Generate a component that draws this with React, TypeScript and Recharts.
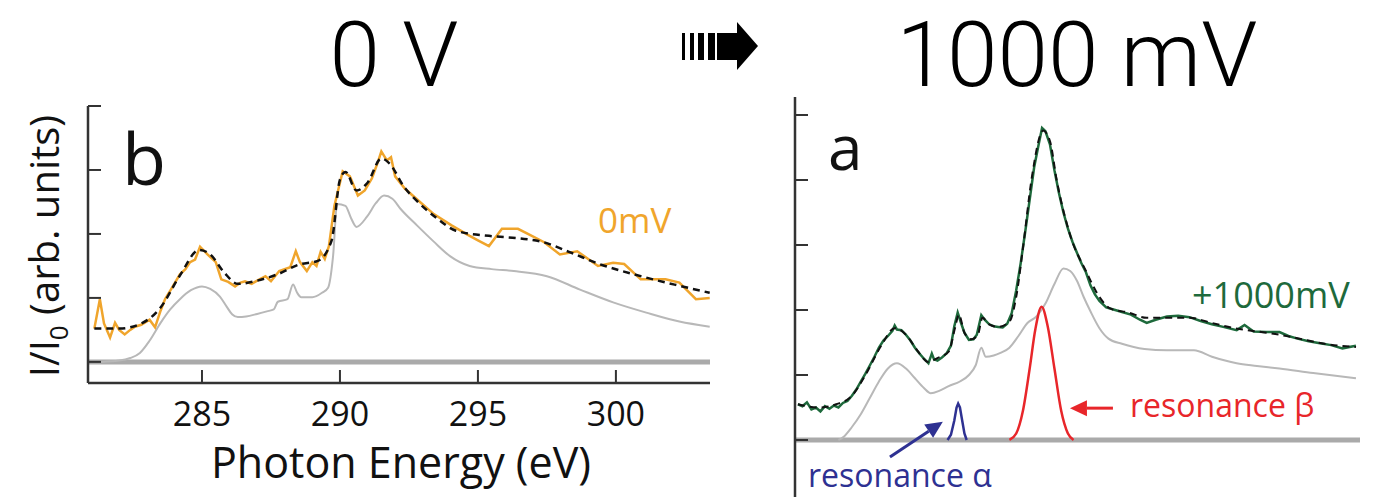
import React from 'react';
import { LineChart, Line, XAxis, YAxis, ReferenceLine } from 'recharts';

type Pt = [number, number];

// [photon energy (eV), I/I0 (arb. units)]
const scan0mV: Pt[] = [
  [281.1, 0.52], [281.3, 0.98], [281.45, 0.6], [281.67, 0.38], [281.85, 0.61], [282.0, 0.5],
  [282.2, 0.43], [282.4, 0.5], [282.57, 0.55], [282.8, 0.58], [283.1, 0.66], [283.3, 0.54],
  [283.5, 0.8], [283.66, 0.98], [283.9, 1.15], [284.2, 1.37], [284.4, 1.45], [284.57, 1.56],
  [284.75, 1.6], [284.93, 1.8], [285.2, 1.68], [285.5, 1.56], [285.7, 1.29], [285.95, 1.25],
  [286.2, 1.18], [286.4, 1.24], [286.56, 1.26], [286.8, 1.22], [287.0, 1.27], [287.3, 1.34],
  [287.5, 1.26], [287.8, 1.42], [288.2, 1.48], [288.4, 1.73], [288.55, 1.56], [288.8, 1.42],
  [289.0, 1.56], [289.15, 1.5], [289.3, 1.72], [289.45, 1.61], [289.6, 1.81], [289.8, 2.44],
  [290.1, 2.98], [290.36, 2.9], [290.65, 2.6], [290.9, 2.68], [291.16, 2.87], [291.38, 3.13],
  [291.5, 3.29], [291.7, 3.15], [291.85, 3.2], [292.0, 2.9], [292.35, 2.71], [292.9, 2.5],
  [293.4, 2.31], [294.06, 2.13], [294.7, 1.97], [295.0, 1.9], [295.4, 1.81], [295.87, 2.08],
  [296.45, 2.08], [296.9, 1.98], [297.4, 1.87], [297.97, 1.68], [298.6, 1.73], [299.35, 1.5],
  [299.9, 1.55], [300.3, 1.53], [300.9, 1.29], [301.8, 1.29], [302.3, 1.24], [302.9, 0.98],
  [303.4, 1.0],
];

const fit0mV: Pt[] = [
  [281.1, 0.52], [282.0, 0.52], [282.8, 0.6], [283.5, 0.85], [284.2, 1.35], [284.9, 1.75],
  [285.3, 1.68], [285.8, 1.4], [286.3, 1.22], [287.0, 1.27], [287.8, 1.38], [288.5, 1.52],
  [289.2, 1.58], [289.7, 1.9], [290.0, 2.85], [290.2, 2.97], [290.6, 2.68], [291.0, 2.8],
  [291.5, 3.18], [291.8, 3.1], [292.3, 2.75], [292.9, 2.47], [293.5, 2.25], [294.2, 2.05],
  [295.4, 1.97], [296.5, 1.93], [297.3, 1.88], [298.3, 1.72], [299.4, 1.53], [300.9, 1.34],
  [302.2, 1.2], [303.4, 1.08],
];

const ref0mV: Pt[] = [
  [281.3, 0.0], [282.0, 0.02], [282.4, 0.06], [282.75, 0.14], [283.1, 0.33], [283.5, 0.61],
  [283.85, 0.82], [284.2, 0.98], [284.6, 1.12], [285.0, 1.18], [285.3, 1.14], [285.65, 1.02],
  [285.9, 0.86], [286.1, 0.74], [286.3, 0.7], [286.6, 0.71], [287.0, 0.75], [287.35, 0.79],
  [287.6, 0.82], [287.75, 0.94], [288.1, 0.98], [288.3, 1.21], [288.45, 1.08], [288.6, 1.01],
  [289.0, 1.01], [289.35, 1.08], [289.57, 1.16], [289.75, 1.65], [289.9, 2.47], [290.2, 2.44],
  [290.4, 2.25], [290.6, 2.11], [290.98, 2.27], [291.3, 2.48], [291.6, 2.6], [291.9, 2.55],
  [292.2, 2.39], [292.8, 2.13], [293.4, 1.88], [294.0, 1.65], [294.7, 1.5], [295.5, 1.45],
  [296.3, 1.42], [297.5, 1.34], [298.7, 1.13], [299.9, 0.93], [301.1, 0.77], [302.3, 0.63],
  [303.4, 0.55],
];

const scan1000mV: Pt[] = [
  [280.6, 0.55], [280.8, 0.52], [281.0, 0.58], [281.2, 0.47], [281.4, 0.5], [281.6, 0.44],
  [281.8, 0.52], [282.0, 0.48], [282.2, 0.53], [282.4, 0.5], [282.6, 0.57], [282.8, 0.6],
  [283.0, 0.68], [283.2, 0.78], [283.4, 0.9], [283.6, 1.02], [283.8, 1.15], [284.0, 1.28],
  [284.2, 1.42], [284.4, 1.53], [284.6, 1.6], [284.8, 1.68], [284.9, 1.76], [285.0, 1.7],
  [285.2, 1.69], [285.4, 1.62], [285.6, 1.53], [285.8, 1.42], [286.0, 1.33], [286.2, 1.25],
  [286.4, 1.18], [286.55, 1.33], [286.65, 1.24], [286.8, 1.22], [287.0, 1.27], [287.2, 1.33],
  [287.4, 1.45], [287.55, 1.75], [287.7, 1.96], [287.85, 1.8], [288.0, 1.65], [288.2, 1.54],
  [288.4, 1.55], [288.55, 1.62], [288.75, 1.92], [288.9, 1.85], [289.1, 1.78], [289.3, 1.75],
  [289.5, 1.74], [289.7, 1.73], [289.9, 1.79], [290.1, 1.95], [290.3, 2.3], [290.5, 2.72],
  [290.7, 3.2], [290.9, 3.7], [291.1, 4.2], [291.3, 4.55], [291.45, 4.8], [291.6, 4.75],
  [291.8, 4.55], [292.0, 4.15], [292.2, 3.8], [292.4, 3.5], [292.6, 3.25], [292.8, 3.05],
  [293.0, 2.88], [293.2, 2.72], [293.4, 2.58], [293.6, 2.38], [293.8, 2.24], [294.0, 2.14],
  [294.3, 2.04], [294.7, 2.0], [295.0, 1.97], [295.4, 1.93], [295.8, 1.85], [296.1, 1.8],
  [296.5, 1.85], [297.0, 1.9], [297.5, 1.91], [298.0, 1.89], [298.5, 1.83], [299.0, 1.78],
  [299.5, 1.74], [300.1, 1.69], [300.45, 1.77], [300.85, 1.67], [301.4, 1.66], [302.0, 1.66],
  [302.4, 1.6], [302.8, 1.56], [303.3, 1.52], [303.8, 1.49], [304.3, 1.46], [304.8, 1.41],
  [305.4, 1.45],
];

const fit1000mV: Pt[] = [
  [280.6, 0.55], [281.5, 0.5], [282.3, 0.55], [283.0, 0.68], [283.6, 1.0], [284.3, 1.45],
  [284.9, 1.72], [285.4, 1.62], [285.9, 1.38], [286.4, 1.2], [286.8, 1.26], [287.3, 1.36],
  [287.6, 1.75], [287.75, 1.93], [288.0, 1.65], [288.3, 1.55], [288.6, 1.62], [288.8, 1.88],
  [289.1, 1.78], [289.5, 1.74], [290.0, 1.82], [290.3, 2.2], [290.6, 2.95], [291.0, 4.05],
  [291.5, 4.76], [291.8, 4.6], [292.1, 4.0], [292.7, 3.15], [293.4, 2.6], [294.0, 2.2],
  [294.5, 2.02], [295.3, 1.96], [296.1, 1.88], [297.0, 1.88], [298.0, 1.88], [299.0, 1.8],
  [300.0, 1.72], [301.0, 1.67], [302.0, 1.62], [303.0, 1.55], [304.0, 1.48], [305.4, 1.43],
];

const ref1000mV: Pt[] = [
  [282.4, 0.0], [282.6, 0.04], [283.0, 0.2], [283.4, 0.4], [283.8, 0.65], [284.2, 0.9],
  [284.6, 1.1], [285.0, 1.18], [285.4, 1.1], [285.8, 0.95], [286.2, 0.8], [286.5, 0.72],
  [286.9, 0.76], [287.3, 0.83], [287.8, 0.9], [288.2, 1.0], [288.5, 1.15], [288.75, 1.42],
  [288.95, 1.28], [289.3, 1.3], [289.6, 1.34], [290.0, 1.42], [290.4, 1.6], [290.8, 1.8],
  [291.2, 1.9], [291.6, 2.1], [292.0, 2.4], [292.4, 2.64], [292.7, 2.6], [293.0, 2.45],
  [293.3, 2.2], [293.6, 1.98], [294.0, 1.72], [294.4, 1.56], [295.0, 1.48], [296.0, 1.4],
  [297.0, 1.38], [298.2, 1.38], [299.0, 1.28], [300.1, 1.18], [301.0, 1.14], [302.0, 1.1],
  [303.5, 1.03], [305.4, 0.95],
];

const resonanceAlpha: Pt[] = [
  [287.25, 0], [287.4, 0.08], [287.55, 0.3], [287.65, 0.5], [287.72, 0.56], [287.8, 0.5],
  [287.9, 0.3], [288.0, 0.1], [288.1, 0],
];

const resonanceBeta: Pt[] = [
  [290.0, 0], [290.3, 0.1], [290.6, 0.45], [290.9, 1.1], [291.15, 1.7], [291.43, 2.05],
  [291.7, 1.75], [292.0, 1.1], [292.3, 0.45], [292.6, 0.1], [292.85, 0],
];

const energyTicks = [285, 290, 295, 300];
const leftTicks = [0, 1, 2, 3, 4];
const rightTicks = [0, 1, 2, 3, 4, 5];

const AXIS = '#333';
const BASE = '#aaaaaa';
const REF = '#b8b8b8';
const ORANGE = '#f0a52c';
const GREEN = '#1e6a3c';
const NAVY = '#2e3192';
const RED = '#e8262a';
const SANS = '"Open Sans", "Noto Sans", sans-serif';

const rows = (pts: Pt[]) => pts.map(([e, v]) => ({ e, v }));

// inward tick on the y axis, no label
function InTickY(props: any) {
  const { x, y } = props;
  return <line x1={x} y1={y} x2={x + 13} y2={y} stroke={AXIS} strokeWidth={2} />;
}

// upward tick plus label under the energy axis
function EnergyTick(props: any) {
  const { x, y, payload } = props;
  return (
    <g>
      <line x1={x} y1={y} x2={x} y2={y - 13} stroke={AXIS} strokeWidth={2} />
      <text x={x} y={y + 43} textAnchor="middle" fontSize={34} fontFamily={SANS} fill="#111">
        {payload.value}
      </text>
    </g>
  );
}

const arrowShape = (color: string) => (p: any) => {
  const { x1, y1, x2, y2 } = p;
  const a = Math.atan2(y2 - y1, x2 - x1);
  const len = 17;
  const half = 8;
  const bx = x2 - len * Math.cos(a);
  const by = y2 - len * Math.sin(a);
  const nx = -Math.sin(a) * half;
  const ny = Math.cos(a) * half;
  return (
    <g>
      <line x1={x1} y1={y1} x2={bx} y2={by} stroke={color} strokeWidth={3} />
      <polygon points={`${x2},${y2} ${bx + nx},${by + ny} ${bx - nx},${by - ny}`} fill={color} />
    </g>
  );
};

export default function App() {
  return (
    <div style={{ position: 'absolute', left: 0, top: 0, width: 1381, height: 497, background: '#fff', overflow: 'hidden' }}>
      {/* panel b: 0 mV */}
      <div style={{ position: 'absolute', left: 0, top: 0 }}>
        <LineChart width={740} height={497} margin={{ top: 106, left: 68, right: 30, bottom: 94 }}>
          <XAxis
            type="number"
            dataKey="e"
            domain={[280.87, 303.41]}
            ticks={energyTicks}
            interval={0}
            height={20}
            tickSize={0}
            tickMargin={0}
            tickLine={false}
            axisLine={{ stroke: AXIS, strokeWidth: 2.5 }}
            tick={<EnergyTick />}
          />
          <YAxis
            type="number"
            domain={[-0.33, 4]}
            ticks={leftTicks}
            interval={0}
            width={20}
            tickSize={0}
            tickMargin={0}
            tickLine={false}
            axisLine={{ stroke: AXIS, strokeWidth: 2.5 }}
            tick={<InTickY />}
          />
          <ReferenceLine y={0} stroke={BASE} strokeWidth={5} />
          <Line data={rows(ref0mV)} dataKey="v" type="monotone" stroke={REF} strokeWidth={2} dot={false} isAnimationActive={false} />
          <Line data={rows(scan0mV)} dataKey="v" type="linear" stroke={ORANGE} strokeWidth={2.5} dot={false} isAnimationActive={false} />
          <Line data={rows(fit0mV)} dataKey="v" type="monotone" stroke="#111" strokeWidth={2.5} strokeDasharray="7 5" dot={false} isAnimationActive={false} />
        </LineChart>
      </div>

      {/* panel a: +1000 mV */}
      <div style={{ position: 'absolute', left: 760, top: 0 }}>
        <LineChart width={621} height={497} margin={{ top: 97, left: 15, right: 21, bottom: 0 }}>
          <XAxis type="number" dataKey="e" domain={[280.47, 305.58]} hide />
          <YAxis
            type="number"
            domain={[-0.877, 5.277]}
            ticks={rightTicks}
            interval={0}
            width={20}
            tickSize={0}
            tickMargin={0}
            tickLine={false}
            axisLine={{ stroke: AXIS, strokeWidth: 2.5 }}
            tick={<InTickY />}
          />
          <ReferenceLine y={0} stroke={BASE} strokeWidth={5} />
          <Line data={rows(ref1000mV)} dataKey="v" type="monotone" stroke={REF} strokeWidth={2} dot={false} isAnimationActive={false} />
          <Line data={rows(resonanceAlpha)} dataKey="v" type="linear" stroke={NAVY} strokeWidth={2.5} dot={false} isAnimationActive={false} />
          <Line data={rows(resonanceBeta)} dataKey="v" type="monotone" stroke={RED} strokeWidth={2.5} dot={false} isAnimationActive={false} />
          <Line data={rows(scan1000mV)} dataKey="v" type="linear" stroke={GREEN} strokeWidth={2.5} dot={false} isAnimationActive={false} />
          <Line data={rows(fit1000mV)} dataKey="v" type="monotone" stroke="#111" strokeWidth={2} strokeDasharray="7 5" dot={false} isAnimationActive={false} />
          <ReferenceLine segment={[{ x: 284.69, y: -0.26 }, { x: 287.04, y: 0.28 }]} shape={arrowShape(NAVY)} />
          <ReferenceLine segment={[{ x: 294.6, y: 0.49 }, { x: 292.69, y: 0.49 }]} shape={arrowShape(RED)} />
        </LineChart>
      </div>

      {/* titles, panel letters and labels */}
      <svg width={1381} height={497} style={{ position: 'absolute', left: 0, top: 0, pointerEvents: 'none' }}>
        <g fontFamily='Roboto, "Liberation Sans", sans-serif' fontWeight={300} fontSize={91} fill="#000">
          <text x={394} y={86} textAnchor="middle">0 V</text>
          <text x={1077} y={86} textAnchor="middle">1000 mV</text>
        </g>
        <g fill="#000">
          <rect x={682} y={33} width={3} height={27} />
          <rect x={690} y={33} width={4} height={27} />
          <rect x={698} y={33} width={6} height={27} />
          <rect x={708} y={33} width={7} height={27} />
          <rect x={717} y={33} width={22} height={27} />
          <polygon points="737,22 758,46 737,70" />
        </g>
        <g fontFamily={SANS}>
          <text x={122} y={185} fontSize={72} fill="#111">b</text>
          <text x={828} y={170} fontSize={62} fill="#111">a</text>
          <text x={401} y={478} fontSize={43} textAnchor="middle" fill="#111">Photon Energy (eV)</text>
          <text transform="translate(59,246) rotate(-90)" fontSize={40} textAnchor="middle" fill="#111">
            I/I<tspan fontSize={26} dy={9}>0</tspan><tspan dy={-9}> (arb. units)</tspan>
          </text>
          <text x={598} y={233} fontSize={35} fill={ORANGE}>0mV</text>
          <text x={1192} y={308} fontSize={36} fill={GREEN}>+1000mV</text>
          <text x={1130} y={417} fontSize={32} fill={RED}>resonance β</text>
          <text x={808} y={487} fontSize={32} fill={NAVY}>resonance α</text>
        </g>
      </svg>
    </div>
  );
}
